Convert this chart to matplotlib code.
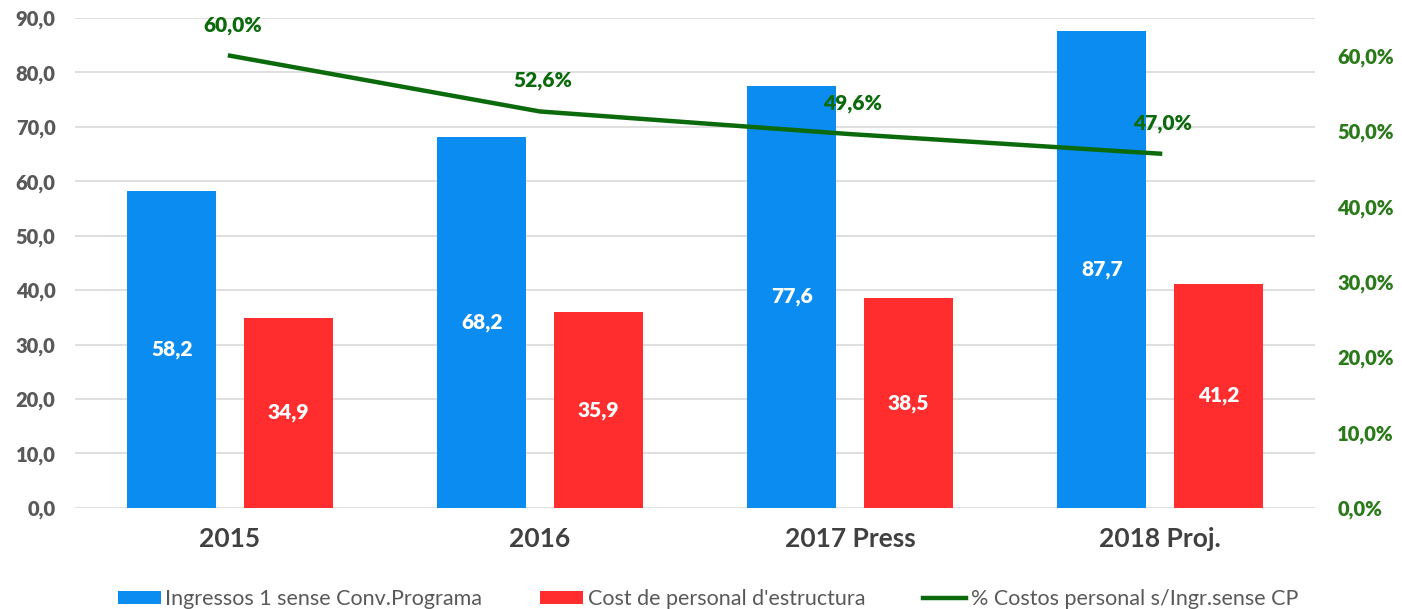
import matplotlib
matplotlib.use("Agg")
import matplotlib.pyplot as plt
import numpy as np

categories = ["2015", "2016", "2017 Press", "2018 Proj."]
ingressos = [58.2, 68.2, 77.6, 87.7]
cost_personal = [34.9, 35.9, 38.5, 41.2]
pct_costos = [60.0, 52.6, 49.6, 47.0]
left_ticks = [0, 10, 20, 30, 40, 50, 60, 70, 80, 90]
right_ticks = [0, 10, 20, 30, 40, 50, 60]

plt.rcParams['font.family'] = ['Lato', 'DejaVu Sans']

BLUE = "#0A8CF0"
RED = "#FF2D2D"
GREEN = "#0B6A0B"
GREEN_TICK = "#2A7A1A"
GRAY = "#595959"
WEIGHT = "heavy"

fig = plt.figure(figsize=(14.02, 6.09), dpi=100)
ax = fig.add_axes([0.0535, 0.166, 0.8845, 0.8044])
x = np.arange(len(categories))
w = 0.287
off = 0.188

def fmt1(v):
    return f"{v:.1f}".replace(".", ",")

b1 = ax.bar(x - off, ingressos, w, color=BLUE, zorder=2, label="Ingressos 1 sense Conv.Programa")
b2 = ax.bar(x + off, cost_personal, w, color=RED, zorder=2, label="Cost de personal d'estructura")

for rect, v in zip(b1, ingressos):
    ax.text(rect.get_x() + rect.get_width() / 2, v / 2, fmt1(v), ha="center", va="center",
            color="white", fontsize=15, fontweight=WEIGHT, zorder=3)
for rect, v in zip(b2, cost_personal):
    ax.text(rect.get_x() + rect.get_width() / 2, v / 2, fmt1(v), ha="center", va="center",
            color="white", fontsize=15, fontweight=WEIGHT, zorder=3)

ax.set_xlim(-0.5, len(categories) - 0.5)
ax.set_ylim(0, 90)
ax.set_yticks(left_ticks, labels=[fmt1(v) for v in left_ticks],
              fontsize=14.5, fontweight=WEIGHT, color=GRAY)
ax.grid(axis="y", color="#D9D9D9", linewidth=1.2, zorder=0)
ax.set_axisbelow(True)
for s in ax.spines.values():
    s.set_visible(False)
ax.tick_params(axis="both", length=0)
ax.tick_params(axis="y", pad=14)
ax.set_xticks(x, labels=categories, fontsize=19, fontweight="bold", color="#404040")
ax.tick_params(axis="x", pad=14)

ax2 = ax.twinx()
ax2.set_ylim(0, 65)
ax2.set_yticks(right_ticks, labels=[fmt1(v) + "%" for v in right_ticks],
               fontsize=14.5, fontweight=WEIGHT, color=GREEN_TICK)
line, = ax2.plot(x, pct_costos, color=GREEN, linewidth=3.2, zorder=4,
                 label="% Costos personal s/Ingr.sense CP")
for xi, v in zip(x, pct_costos):
    ax2.annotate(fmt1(v) + "%", (xi, v), xytext=(2, 22), textcoords="offset points",
                 ha="center", va="center", color=GREEN, fontsize=15, fontweight=WEIGHT, zorder=5)
for s in ax2.spines.values():
    s.set_visible(False)
ax2.tick_params(axis="y", length=0, pad=16)

handles = [b1, b2, line]
fig.legend(handles, [h.get_label() for h in handles], loc="lower center",
           bbox_to_anchor=(0.505, -0.032), ncol=3, frameon=False, fontsize=15.5,
           handlelength=2.0, handleheight=0.55, handletextpad=0.2, columnspacing=2.7,
           labelcolor=GRAY)

fig.savefig("out.png", dpi=100)
